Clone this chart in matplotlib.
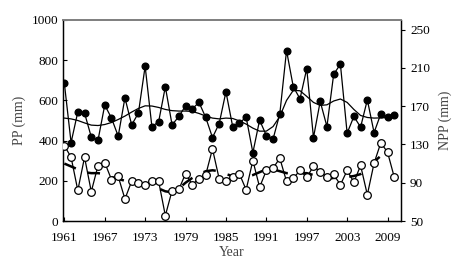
import matplotlib
matplotlib.use("Agg")
import matplotlib.pyplot as plt
import numpy as np

years = list(range(1961, 2011))

pp = [685, 390, 543, 537, 418, 402, 577, 512, 422, 613, 478, 537,
      770, 470, 493, 668, 478, 520, 573, 558, 590, 515, 415, 485, 643,
      470, 487, 517, 340, 502, 425, 408, 533, 848, 668, 608, 758,
      415, 595, 470, 730, 780, 437, 520, 467, 603, 440, 533, 517, 527]

pp_smooth = [512, 508, 500, 488, 477, 475, 480, 490, 505, 522, 542, 560,
             573, 572, 565, 555, 549, 547, 547, 545, 535, 522, 512, 508, 512,
             510, 498, 482, 462, 447, 447, 470, 520, 600, 650, 648, 620,
             590, 575, 578, 597, 607, 590, 555, 525, 515, 512, 513, 515, 517]

npp = [128.8, 116.6, 82.0, 116.6, 80.7, 107.9, 111.0, 93.3, 96.5, 73.0, 91.6, 89.2,
       88.1, 92.3, 91.6, 55.6, 81.8, 83.0, 99.4, 88.0, 94.4, 98.3, 125.3, 94.0, 92.2,
       95.8, 99.3, 82.6, 113.2, 85.3, 102.8, 105.2, 115.6, 91.3, 94.7, 102.8, 95.8,
       107.0, 101.7, 95.8, 98.6, 87.8, 102.8, 90.6, 108.0, 77.4, 110.4, 131.7, 121.9, 95.8]

npp_smooth = [110, 107, 104, 101, 100, 100, 99, 96, 94, 92, 90, 89,
              88, 87, 84, 81, 80, 84, 90, 95, 99, 102, 103, 102, 99,
              97, 96, 96, 98, 101, 104, 104, 102, 100, 100, 100, 100,
              98, 95, 94, 95, 95, 96, 97, 99, 104, 112, 118, 120]

xticks = [1961, 1967, 1973, 1979, 1985, 1991, 1997, 2003, 2009]
pp_ticks = [0, 200, 400, 600, 800, 1000]
npp_ticks = [50, 90, 130, 170, 210, 250]

plt.rcParams['font.family'] = ['Liberation Serif', 'DejaVu Serif']

fig = plt.figure(figsize=(4.56, 2.70), dpi=100)
ax = fig.add_axes([63/456, 1-221/270, (401-63)/456, (221-20)/270])
ax2 = ax.twinx()

ax.plot(years, pp, color='black', lw=0.9, marker='o', ms=4.8,
        mfc='black', mec='black', zorder=3)
ax.plot(years, pp_smooth, color='black', lw=0.9, zorder=2)

ax2.plot(years[:len(npp_smooth)], npp_smooth, color='black', lw=1.8,
         ls=(0, (5, 5)), zorder=1)
ax2.plot(years, npp, color='black', lw=0.9, marker='o', ms=5.5,
         mfc='white', mec='black', mew=0.9, zorder=3)

ax.set_xlim(1960.8, 2011)
ax.set_ylim(0, 1000)
ax2.set_ylim(50, 260)
ax.set_xticks(xticks)
ax.set_yticks(pp_ticks)
ax2.set_yticks(npp_ticks)

ax.tick_params(axis='both', direction='in', length=3, width=0.8,
               labelsize=9.5, colors='black')
ax2.tick_params(axis='y', direction='out', length=3, width=0.8,
                labelsize=9.5, colors='black')
ax.tick_params(axis='x', pad=8)

for a in (ax, ax2):
    for s in ('left', 'right', 'bottom'):
        a.spines[s].set_linewidth(0.9)
        a.spines[s].set_color('black')
    a.spines['top'].set_color('#808080')
    a.spines['top'].set_linewidth(1.3)

ax.set_xlabel('Year', fontsize=10, color='#444444', labelpad=1)
ax.set_ylabel('PP (mm)', fontsize=10, color='#444444', labelpad=4)
ax2.set_ylabel('NPP (mm)', fontsize=10, color='#444444', labelpad=6)

fig.savefig('out.png', dpi=100)
